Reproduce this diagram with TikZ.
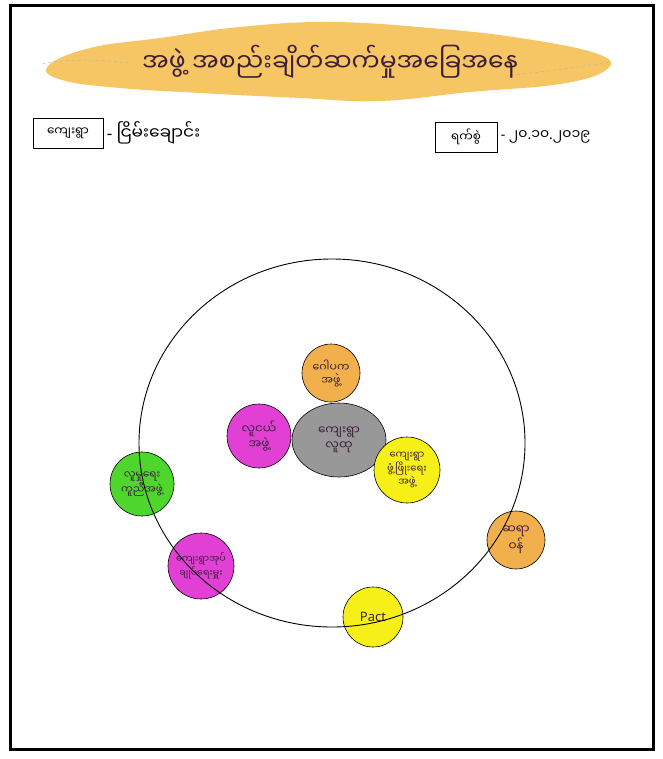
\documentclass[tikz,border=0pt]{standalone}
\usepackage{fontspec}
\setmainfont{Noto Sans}
\newfontfamily\mmfont[Script=Myanmar]{Noto Sans Myanmar UI}
\usetikzlibrary{shapes.geometric, positioning}
\definecolor{cloudcolor}{RGB}{246,192,84}
\definecolor{orgorange}{RGB}{242,176,76}
\definecolor{orgpink}{RGB}{226,64,212}
\definecolor{orgyellow}{RGB}{246,240,24}
\definecolor{orggreen}{RGB}{78,214,44}
\definecolor{orggray}{RGB}{152,152,152}
\definecolor{inkcolor}{RGB}{60,30,60}

\tikzset{
  org/.style={circle, draw=black, line width=0.6pt, minimum size=#1, inner sep=0pt,
    align=center, text=inkcolor, font=\mmfont\fontsize{11}{13}\selectfont},
  org/.default=60pt,
  headbox/.style={draw, line width=0.6pt, minimum height=30pt, inner sep=2pt,
    font=\mmfont\fontsize{12}{14}\selectfont}
}

\begin{document}
\begin{tikzpicture}[x=1pt, y=-1pt]
  \useasboundingbox (0,0) rectangle (662,759);
  \fill[white] (0,0) rectangle (662,759);

  % page frame
  \draw[line width=3pt] (10,6) rectangle (653,749);

  % title cloud
  \fill[cloudcolor, opacity=0.9] plot[smooth cycle, tension=0.7] coordinates {
    (48,66) (90,48) (160,38) (240,27) (330,22) (430,28) (520,38) (598,54)
    (606,70) (560,84) (470,92) (380,101) (300,98) (200,93) (120,88) (62,80)};
  \draw[gray!60, line width=0.4pt, dashed] (42,64) .. controls (70,58) and (100,60) .. (130,63);
  \draw[gray!60, line width=0.4pt, dashed] (505,76) .. controls (540,72) and (575,68) .. (608,62);
  \node[font=\mmfont\fontsize{25}{30}\selectfont, text=inkcolor] (title) at (330,62)
    {အဖွဲ့ အစည်းချိတ်ဆက်မှုအခြေအနေ};

  % village and date
  \node[headbox, minimum width=70pt] (villagebox) at (68,133) {ကျေးရွာ};
  \node[right=0pt of villagebox, font=\mmfont\fontsize{17}{20}\selectfont] (villagename)
    {{\normalfont -} ငြိမ်းချောင်း};
  \node[headbox, minimum width=62pt] (datebox) at (466,137) {ရက်စွဲ};
  \node[right=0pt of datebox, font=\mmfont\fontsize{14}{17}\selectfont] (datetext)
    {{\normalfont -} ၂၀{\normalfont .}၁၀{\normalfont .}၂၀၁၉};

  % organisations
  \node[ellipse, draw=black, line width=0.6pt, fill=orggray, minimum width=94pt,
    minimum height=74pt, align=center, text=inkcolor,
    font=\mmfont\fontsize{12}{15}\selectfont] (community) at (339,440) {ကျေးရွာ\\လူထု};
  \node[org=58pt, fill=orgorange] (gopaka) at (331,373) {ဂေါပက\\အဖွဲ့};
  \node[org=64pt, fill=orgpink, font=\mmfont\fontsize{12}{15}\selectfont] (youth) at (259,436)
    {လူငယ်\\အဖွဲ့};
  \node[org=66pt, fill=orgyellow, font=\mmfont\fontsize{10}{11.5}\selectfont] (develop) at (407,470)
    {ကျေးရွာ\\ဖွံ့ဖြိုးရေး\\အဖွဲ့};
  \node[org=64pt, fill=orggreen, font=\mmfont\fontsize{10.5}{13}\selectfont] (social) at (142,484)
    {လူမှုရေး\\ကူညီအဖွဲ့};
  \node[org=66pt, fill=orgpink, font=\mmfont\fontsize{9.5}{12.5}\selectfont] (headman) at (201,566)
    {ကျေးရွာအုပ်\\ချုပ်ရေးမှူး};
  \node[org=58pt, fill=orgorange, font=\mmfont\fontsize{12}{15}\selectfont] (doctor) at (516,540)
    {ဆရာ\\ဝန်};
  \node[org=60pt, fill=orgyellow, font=\fontsize{13}{15}\selectfont] (pact) at (373,617) {Pact};

  % outer circle
  \draw[line width=0.9pt] (332,443) ellipse (193 and 184);
\end{tikzpicture}
\end{document}
